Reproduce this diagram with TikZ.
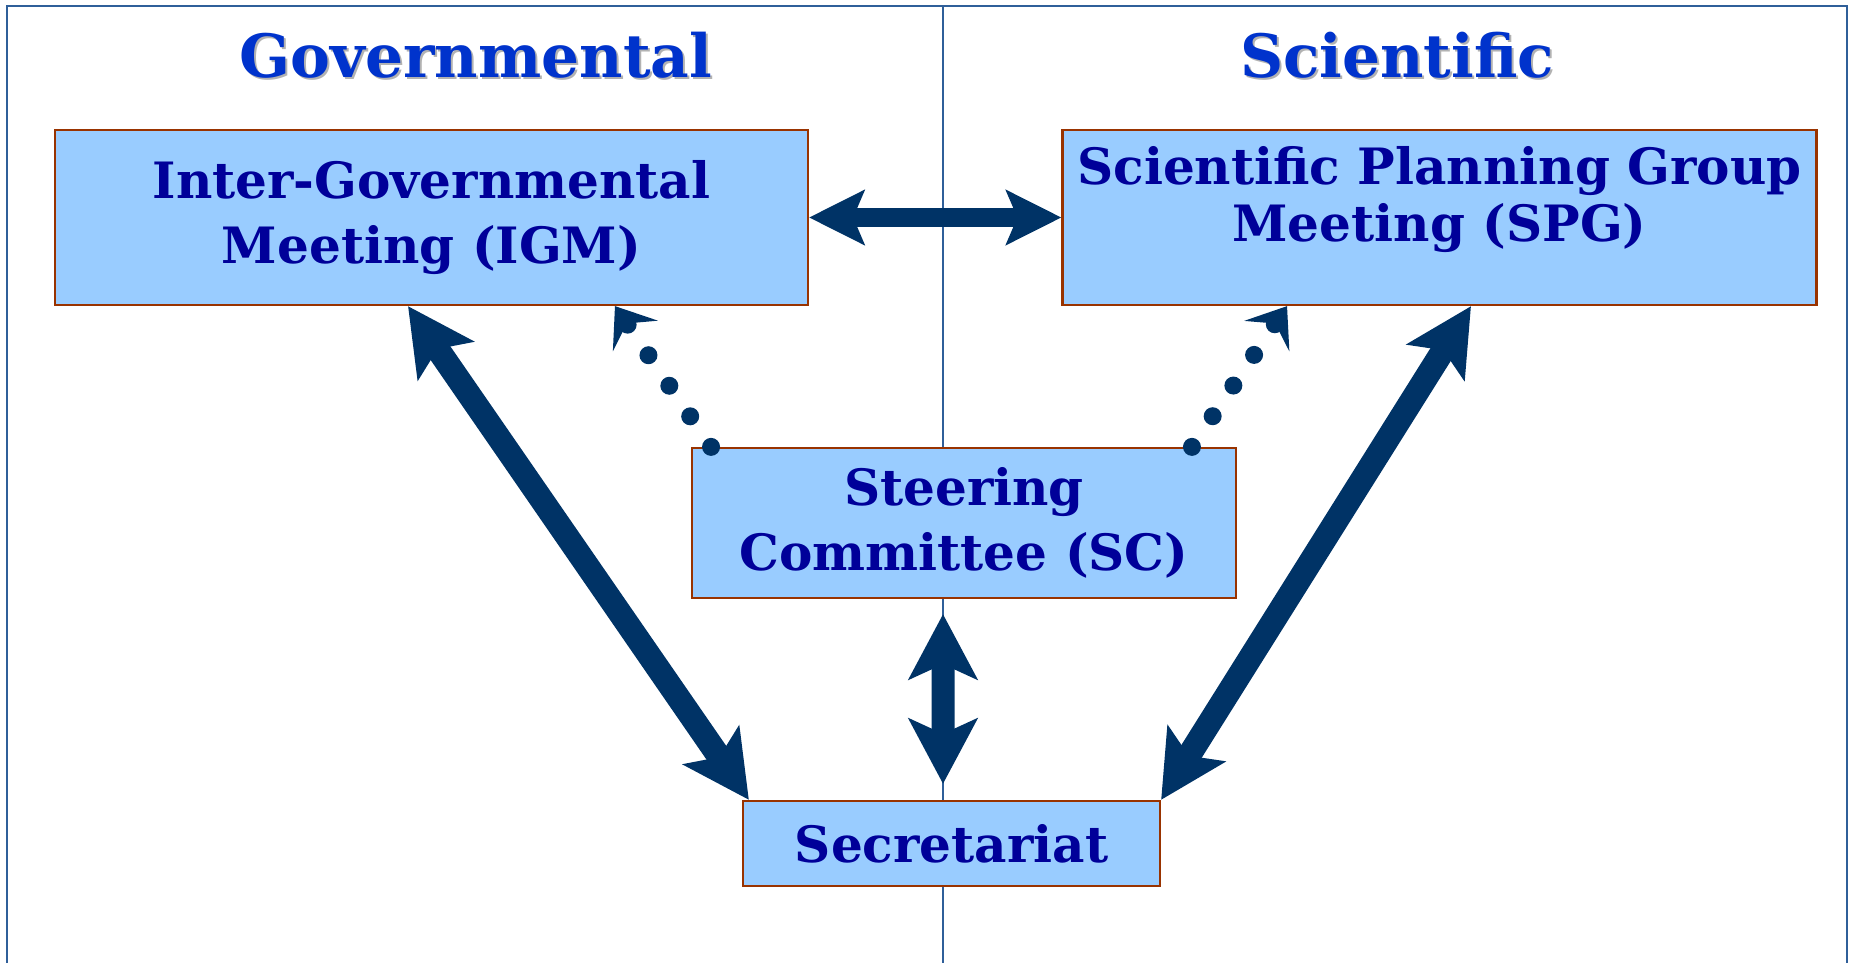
\documentclass[tikz,border=0pt]{standalone}
\usepackage{fontspec}
\setmainfont{DejaVu Serif}
\usepackage{tikz}
\usetikzlibrary{arrows.meta,calc}

\definecolor{boxfill}{HTML}{99CCFF}
\definecolor{boxline}{HTML}{993300}
\definecolor{boxtext}{HTML}{000099}
\definecolor{navy}{HTML}{003366}
\definecolor{frameblue}{HTML}{2F5F99}
\definecolor{headblue}{HTML}{0033CC}

\begin{document}
\begin{tikzpicture}[x=0.02cm,y=-0.02cm]
    % `group' is used for the four bodies (boxes).
    % `heading' is used for the two column titles, `shadow' sits behind them.
    % `link' is for the thick arrows, `weaklink' for the dotted ones.
    \tikzstyle{group} = [draw=boxline,fill=boxfill,line width=1.3pt,text=boxtext,
        font=\bfseries\fontsize{28.5}{37}\selectfont,align=center,inner sep=0pt]
    \tikzstyle{heading} = [text=headblue,font=\bfseries\fontsize{34}{40}\selectfont]
    \tikzstyle{shadow} = [heading,text=black!30]
    \tikzstyle{link} = [navy,line width=0.48cm,
        {Stealth[length=1.32cm,width=1.34cm,inset=0.28cm]}-{Stealth[length=1.32cm,width=1.34cm,inset=0.28cm]}]
    \tikzstyle{weaklink} = [navy,line width=0.36cm,line cap=round,dash pattern=on 0pt off 0.74cm,
        -{Stealth[length=0.72cm,width=1.08cm,inset=0.3cm]}]
    %
    \useasboundingbox (0,0) rectangle (1849,963);
    % Draw frame and middle line.
    \draw[frameblue,line width=1.4pt] (7,963) -- (7,6) -- (1847,6) -- (1847,963);
    \draw[frameblue,line width=1.3pt] (943,6) -- (943,963);
    %
    \node[shadow] at (478,57) {Governmental};
    \node[heading] (gov) at (476,55) {Governmental};
    \node[shadow] at (1399,57) {Scientific};
    \node[heading] (sci) at (1397,55) {Scientific};
    %
    \node[group,minimum width=15.06cm,minimum height=3.5cm] (igm) at (431.5,217.5)
        {Inter-Governmental\\Meeting (IGM)};
    \node[group,minimum width=15.08cm,minimum height=3.5cm] (spg) at (1439.5,217.5)
        {Scientific Planning Group\\[-0.16cm]Meeting (SPG)\\[-0.75cm]\strut};
    \node[group,minimum width=10.88cm,minimum height=3.0cm] (sc) at (964,523)
        {Steering\\Committee (SC)};
    \node[group,minimum width=8.34cm,minimum height=1.7cm] (sec) at (951.5,843.5)
        {Secretariat};
    %
    % Draw the arrows.
    \draw[link,line width=0.38cm,
        {Stealth[length=1.1cm,width=1.08cm,inset=0.22cm]}-{Stealth[length=1.1cm,width=1.08cm,inset=0.22cm]}]
        (igm.east) -- (spg.west);
    \draw[link,line width=0.46cm,shorten <=0.3cm,shorten >=0.32cm,
        {Stealth[length=1.3cm,width=1.36cm,inset=0.3cm]}-{Stealth[length=1.3cm,width=1.36cm,inset=0.3cm]}]
        ([xshift=-0.42cm]sc.south) -- ([xshift=-0.17cm]sec.north);
    \draw[link] ([xshift=-0.47cm]igm.south) -- ([xshift=0.14cm]sec.north west);
    \draw[link] ([xshift=0.63cm]spg.south) -- (sec.north east);
    \draw[weaklink] ([xshift=-5.06cm]sc.north) -- ([xshift=3.67cm]igm.south);
    \draw[weaklink] ([xshift=4.56cm]sc.north) -- ([xshift=-3.05cm]spg.south);
\end{tikzpicture}
\end{document}
